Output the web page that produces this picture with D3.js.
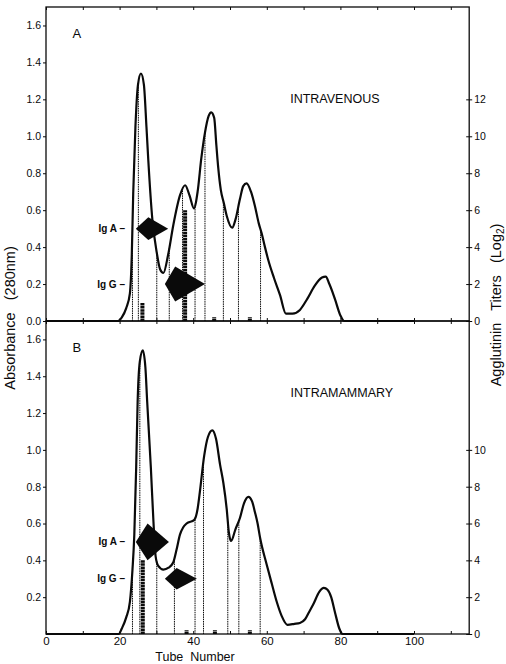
<!DOCTYPE html>
<html>
<head>
<meta charset="utf-8">
<script src="https://cdn.jsdelivr.net/npm/d3@7/dist/d3.min.js"></script>
<style>
  body { margin: 0; background: #fff; }
  svg { display: block; }
</style>
</head>
<body>
<div id="chart"></div>
<script>
// Tick values
const xTicks = [0, 20, 40, 60, 80, 100];
const xMinorTicks = d3.range(0, 111, 10);
const absTicksA = [0, 0.2, 0.4, 0.6, 0.8, 1.0, 1.2, 1.4, 1.6];
const absTicksB = [0.2, 0.4, 0.6, 0.8, 1.0, 1.2, 1.4, 1.6];
const titerTicksA = [0, 2, 4, 6, 8, 10, 12];
const titerTicksB = [0, 2, 4, 6, 8, 10];

// Absorbance profiles [tube, absorbance]
const curveA = [
    [0, 0], [19.5, 0], [20.6, 0.02], [21.8, 0.07], [22.8, 0.15], [23.3, 0.35], [23.7, 0.69],
    [24.3, 1.05], [25, 1.28], [25.8, 1.34], [26.6, 1.28], [27.3, 1.05], [27.8, 0.87],
    [28.9, 0.55], [30.1, 0.37], [31, 0.28], [31.9, 0.26], [33.2, 0.36], [34.6, 0.52],
    [36.4, 0.68], [37.8, 0.735], [39, 0.68], [40.2, 0.61], [41.2, 0.70], [42.2, 0.88],
    [43.2, 1.02], [44.2, 1.11], [44.9, 1.13], [45.7, 1.10], [46.3, 0.95], [46.8, 0.83],
    [47.5, 0.71], [48.3, 0.64], [49.1, 0.57], [50.6, 0.505], [51.5, 0.55], [52.7, 0.66],
    [53.6, 0.73], [54.5, 0.745], [55.7, 0.70], [56.8, 0.62], [57.8, 0.53], [58.6, 0.475],
    [59.5, 0.40], [60.4, 0.33], [62, 0.23], [63.6, 0.14], [65.2, 0.04], [67, 0.04],
    [69, 0.06], [71, 0.12], [73, 0.19], [75, 0.235], [76, 0.24], [77, 0.20], [78.5, 0.12],
    [80, 0.03], [81, 0], [100, 0]
];
const curveB = [
    [0, 0], [19.8, 0], [20.6, 0.03], [21.8, 0.09], [22.8, 0.175], [23.5, 0.35], [24, 0.54],
    [24.5, 0.9], [24.9, 1.26], [25.5, 1.48], [26.3, 1.54], [27, 1.45], [27.5, 1.26],
    [28.5, 0.9], [29.2, 0.61], [29.8, 0.42], [30.5, 0.37], [31.9, 0.35], [33.3, 0.36],
    [34.6, 0.39], [35.5, 0.46], [36.4, 0.54], [37.3, 0.58], [38.2, 0.6], [40.3, 0.62],
    [41.2, 0.68], [41.8, 0.77], [43, 0.97], [44, 1.07], [45.2, 1.106], [46.2, 1.06],
    [47.3, 0.92], [48.2, 0.82], [49.1, 0.68], [49.7, 0.55], [50.3, 0.505], [51.5, 0.57],
    [52.7, 0.63], [53.8, 0.71], [55, 0.745], [56, 0.72], [56.8, 0.66], [57.5, 0.6],
    [58.2, 0.52], [60, 0.375], [61.4, 0.27], [62.7, 0.175], [64, 0.1], [65.6, 0.05],
    [67.5, 0.055], [69, 0.06], [70.4, 0.08], [71.5, 0.12], [72.6, 0.16], [74.3, 0.23],
    [75.5, 0.25], [76.5, 0.24], [77.5, 0.2], [78.5, 0.12], [79.7, 0.03], [80.6, 0], [100, 0]
];

// Pool boundaries (tube numbers)
const poolsA = [23.5, 25.1, 30.1, 33.5, 37.1, 40.5, 43.2, 48.2, 52.3, 58.3];
const poolsB = [23.5, 25.5, 30.1, 34.9, 40.5, 42.8, 49.4, 52.4, 58.2];

// Agglutinin titers (log2) per tube
const titerTubesA = [26.2, 37.8, 45.7, 55.4];
const titersA = [1, 6, 0.2, 0.2];
const titerTubesB = [26.3, 38.2, 45.9, 55.4];
const titersB = [4, 0.2, 0.2, 0.2];

// Elution markers: absorbance level, [left, apex, right] tubes, half height
const markerNames = ['Ig A', 'Ig G'];
const markerLevelsA = [0.5, 0.2];
const markerTubesA = [[24.4, 27.8, 33.2], [32.3, 35.1, 43.2]];
const markerHalfA = [0.062, 0.095];
const markerLevelsB = [0.5, 0.3];
const markerTubesB = [[24.4, 27.6, 33.4], [32.3, 35.5, 41.0]];
const markerHalfB = [0.1, 0.058];

const panelLetters = ['A', 'B'];
const panelTitles = ['INTRAVENOUS', 'INTRAMAMMARY'];

const width = 506;
const height = 664;
const font = '"Liberation Sans", Arial, sans-serif';
const ink = '#0a0a0a';

// Create SVG
const svg = d3.select('#chart')
    .append('svg')
    .attr('width', width)
    .attr('height', height)
    .style('font-family', font);

const x = d3.scaleLinear().domain([0, 115]).range([46, 469.2]);

const panels = [
    { letter: panelLetters[0], title: panelTitles[0], range: [321, 7], curve: curveA, pools: poolsA,
      titerTubes: titerTubesA, titers: titersA, absTicks: absTicksA, titerTicks: titerTicksA,
      levels: markerLevelsA, tubes: markerTubesA, half: markerHalfA, titleTube: 78.5, titleAbs: 1.18 },
    { letter: panelLetters[1], title: panelTitles[1], range: [634, 321], curve: curveB, pools: poolsB,
      titerTubes: titerTubesB, titers: titersB, absTicks: absTicksB, titerTicks: titerTicksB,
      levels: markerLevelsB, tubes: markerTubesB, half: markerHalfB, titleTube: 80.4, titleAbs: 1.285 }
];

// Linear lookup of absorbance at a tube number
function absAt(curve, t) {
    const i = d3.bisector(d => d[0]).left(curve, t);
    if (i <= 0) return curve[0][1];
    if (i >= curve.length) return curve[curve.length - 1][1];
    const a = curve[i - 1], b = curve[i];
    return a[1] + (b[1] - a[1]) * (t - a[0]) / (b[0] - a[0]);
}

panels.forEach((p, pi) => {
    const y = d3.scaleLinear().domain([0, 1.7]).range(p.range);
    const yT = d3.scaleLinear().domain([0, 17]).range(p.range);
    const g = svg.append('g');

    // Frame
    g.append('rect')
        .attr('x', x(0)).attr('y', y(1.7))
        .attr('width', x(115) - x(0)).attr('height', y(0) - y(1.7))
        .attr('fill', 'none').attr('stroke', ink).attr('stroke-width', 1.3);

    // Inner ticks top and bottom
    g.append('g')
        .attr('transform', `translate(0,${y(1.7)})`)
        .call(d3.axisTop(x).tickValues(xMinorTicks).tickSize(-3).tickFormat(''))
        .call(s => s.select('.domain').remove())
        .selectAll('line').attr('stroke', ink);
    g.append('g')
        .attr('transform', `translate(0,${y(0)})`)
        .call(d3.axisBottom(x).tickValues(xMinorTicks).tickSize(-3).tickFormat(''))
        .call(s => s.select('.domain').remove())
        .selectAll('line').attr('stroke', ink);

    // Left axis
    const left = g.append('g')
        .attr('transform', `translate(${x(0)},0)`)
        .call(d3.axisLeft(y).tickValues(p.absTicks).tickSize(3).tickPadding(2).tickFormat(d3.format('.1f')));
    left.select('.domain').remove();
    left.selectAll('line').attr('stroke', ink);
    left.selectAll('text').style('font-size', '10.5px').style('font-family', font).attr('fill', ink);

    // Right axis (ticks cross the frame)
    const right = g.append('g')
        .attr('transform', `translate(${x(115)},0)`)
        .call(d3.axisRight(yT).tickValues(p.titerTicks).tickSize(3).tickPadding(2));
    right.select('.domain').remove();
    right.selectAll('line').attr('x1', -3).attr('stroke', ink);
    right.selectAll('text').style('font-size', '10.5px').style('font-family', font).attr('fill', ink);

    // Pool boundaries (dotted)
    g.append('g')
        .selectAll('line')
        .data(p.pools)
        .enter()
        .append('line')
        .attr('x1', d => x(d)).attr('x2', d => x(d))
        .attr('y1', y(0)).attr('y2', d => y(absAt(p.curve, d)))
        .attr('stroke', ink).attr('stroke-width', 1)
        .attr('stroke-dasharray', '1.5,0.8');

    // Titer bars
    g.append('g')
        .selectAll('line')
        .data(p.titerTubes)
        .enter()
        .append('line')
        .attr('x1', d => x(d)).attr('x2', d => x(d))
        .attr('y1', yT(0)).attr('y2', (d, i) => yT(p.titers[i]))
        .attr('stroke', ink).attr('stroke-width', 4)
        .attr('stroke-dasharray', '2.5,0.6');

    // Absorbance curve
    const line = d3.line()
        .x(d => x(d[0]))
        .y(d => y(d[1]))
        .curve(d3.curveMonotoneX);
    g.append('path')
        .datum(p.curve)
        .attr('d', line)
        .attr('fill', 'none')
        .attr('stroke', ink)
        .attr('stroke-width', 2.2)
        .attr('stroke-linejoin', 'round');

    // Elution markers
    p.levels.forEach((lv, i) => {
        const t = p.tubes[i];
        const pts = [
            [x(t[0]), y(lv)],
            [x(t[1]), y(lv + p.half[i])],
            [x(t[2]), y(lv)],
            [x(t[1]), y(lv - p.half[i])]
        ];
        g.append('polygon')
            .attr('points', pts.map(q => q.join(',')).join(' '))
            .attr('fill', ink);
        g.append('text')
            .attr('x', x(0) + 79)
            .attr('y', y(lv) + 3.5)
            .attr('text-anchor', 'end')
            .style('font-size', '10px')
            .style('font-weight', 'bold')
            .attr('fill', ink)
            .text(markerNames[i] + ' –');
    });

    // Panel letter and title
    g.append('text')
        .attr('x', x(8.4)).attr('y', y(1.53))
        .attr('text-anchor', 'middle')
        .style('font-size', '13px')
        .attr('fill', ink)
        .text(p.letter);
    g.append('text')
        .attr('x', x(p.titleTube)).attr('y', y(p.titleAbs))
        .attr('text-anchor', 'middle')
        .style('font-size', '12.5px')
        .attr('fill', ink)
        .text(p.title);

    // Bottom labels only on lower panel
    if (pi === 1) {
        const bottom = g.append('g')
            .attr('transform', `translate(0,${y(0)})`)
            .call(d3.axisBottom(x).tickValues(xTicks).tickSize(0).tickPadding(3));
        bottom.select('.domain').remove();
        bottom.selectAll('text').style('font-size', '11.5px').style('font-family', font).attr('fill', ink);
    }
});

// Axis titles
svg.append('text')
    .attr('transform', 'translate(15,318) rotate(-90)')
    .attr('text-anchor', 'middle')
    .style('font-size', '14.5px')
    .attr('fill', ink)
    .attr('xml:space', 'preserve')
    .text('Absorbance   (280nm)');

const rt = svg.append('text')
    .attr('transform', 'translate(501,305) rotate(-90)')
    .attr('text-anchor', 'middle')
    .style('font-size', '14.5px')
    .attr('fill', ink)
    .attr('xml:space', 'preserve');
rt.append('tspan').text('Agglutinin   Titers   (Log');
rt.append('tspan').attr('dy', 3).style('font-size', '10px').text('2');
rt.append('tspan').attr('dy', -3).text(')');

svg.append('text')
    .attr('x', 195).attr('y', 661)
    .attr('text-anchor', 'middle')
    .style('font-size', '12.5px')
    .attr('fill', ink)
    .attr('xml:space', 'preserve')
    .text('Tube  Number');
</script>
</body>
</html>
